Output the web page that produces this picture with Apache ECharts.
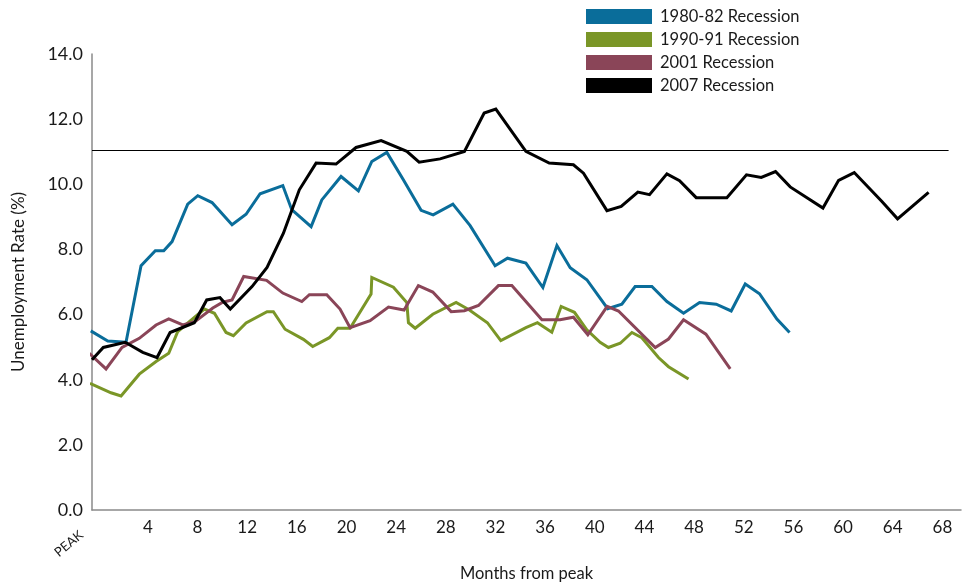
<!DOCTYPE html>
<html>
<head>
<meta charset="utf-8">
<script src="https://cdn.jsdelivr.net/npm/echarts@6/dist/echarts.min.js"></script>
<style>
  html, body { margin: 0; padding: 0; background: #ffffff; }
  #chart { width: 964px; height: 582px; }
</style>
</head>
<body>
<div id="chart"></div>
<script>
// ---- data (months from peak, unemployment rate %) ----
var seriesNames = ['1980-82 Recession', '1990-91 Recession', '2001 Recession', '2007 Recession'];
var seriesColors = ['#0a6d9a', '#7a9627', '#8a4558', '#000000'];

var recession1980 = [
  [-0.6,5.50],[0.77,5.19],[2.24,5.15],[3.45,7.50],[4.60,7.96],[5.28,7.96],[5.95,8.24],[7.21,9.39],
  [8.02,9.65],[9.17,9.44],[10.78,8.76],[11.91,9.08],[13.04,9.71],[14.87,9.96],[15.59,9.22],[17.15,8.70],
  [18.01,9.52],[19.56,10.24],[20.96,9.80],[22.04,10.70],[23.25,10.98],[24.58,10.14],[26.01,9.20],[26.98,9.06],
  [28.57,9.39],[29.96,8.73],[31.97,7.50],[32.97,7.73],[34.45,7.58],[35.82,6.83],[36.95,8.12],[38.02,7.44],
  [39.36,7.07],[41.04,6.18],[42.18,6.32],[43.25,6.86],[44.60,6.86],[45.81,6.40],[47.15,6.04],[48.44,6.37],
  [49.78,6.32],[50.99,6.11],[52.12,6.94],[53.27,6.64],[54.67,5.86],[55.69,5.45]
];
var recession1990 = [
  [-0.66,3.89],[1.03,3.60],[1.84,3.50],[3.31,4.17],[4.66,4.56],[5.68,4.81],[6.41,5.48],[8.55,6.17],
  [9.36,6.04],[10.30,5.45],[10.89,5.35],[11.91,5.74],[13.60,6.09],[14.11,6.09],[15.05,5.55],[16.53,5.24],
  [17.28,5.02],[18.62,5.29],[19.30,5.58],[20.29,5.58],[21.98,6.63],[22.04,7.14],[23.78,6.84],[24.86,6.37],
  [24.99,5.75],[25.53,5.58],[26.95,6.01],[28.83,6.37],[29.90,6.14],[31.35,5.75],[32.43,5.20],[34.45,5.60],
  [35.38,5.75],[36.54,5.46],[37.29,6.25],[38.36,6.07],[39.36,5.53],[40.43,5.15],[41.10,4.99],[42.05,5.12],
  [42.99,5.45],[43.79,5.29],[45.13,4.68],[45.94,4.40],[47.55,4.02]
];
var recession2001 = [
  [-0.72,4.81],[0.63,4.33],[1.92,4.99],[3.31,5.27],[4.66,5.68],[5.68,5.87],[6.81,5.68],[7.82,5.79],
  [9.23,6.20],[10.03,6.38],[10.78,6.45],[11.72,7.17],[13.56,7.05],[14.87,6.66],[16.40,6.40],[17.01,6.61],
  [18.41,6.61],[19.48,6.17],[20.29,5.60],[21.90,5.81],[23.38,6.23],[24.64,6.14],[25.79,6.89],[26.95,6.69],
  [28.43,6.09],[29.50,6.12],[30.63,6.28],[32.24,6.89],[33.32,6.89],[35.74,5.84],[37.21,5.84],[38.28,5.92],
  [39.44,5.38],[41.00,6.25],[41.91,6.11],[44.87,4.99],[45.94,5.25],[47.15,5.84],[48.95,5.40],[50.91,4.33]
];
var recession2007 = [
  [-0.5,4.61],[0.41,4.99],[2.18,5.15],[3.59,4.84],[4.74,4.68],[5.79,5.45],[7.74,5.75],[8.74,6.45],
  [9.81,6.52],[10.64,6.17],[12.39,6.86],[13.60,7.45],[14.92,8.50],[16.20,9.83],[17.55,10.65],[19.16,10.62],
  [20.77,11.13],[22.79,11.34],[24.86,11.01],[25.85,10.68],[27.54,10.78],[29.50,11.01],[31.09,12.19],[32.03,12.31],
  [34.45,11.01],[36.33,10.65],[38.28,10.60],[39.09,10.34],[40.98,9.19],[42.13,9.32],[43.47,9.76],[44.41,9.68],
  [45.81,10.32],[46.83,10.11],[48.17,9.59],[50.64,9.59],[52.22,10.29],[53.41,10.21],[54.56,10.39],[55.74,9.92],
  [58.38,9.27],[59.64,10.12],[60.90,10.36],[63.13,9.47],[64.39,8.94],[66.89,9.75]
];

var monthTicks = [4, 8, 12, 16, 20, 24, 28, 32, 36, 40, 44, 48, 52, 56, 60, 64, 68];
var peakTick = [0];
var peakLabel = 'PEAK';
var yTicks = [0, 2, 4, 6, 8, 10, 12, 14];
var refLineValue = 11.05;
var refLineSpan = [-0.5, 68.5];
var xRange = [-0.5, 69.5];

// ---- chart ----
var FONT = 'Lato, "Open Sans", sans-serif';
var chart = echarts.init(document.getElementById('chart'), null, { renderer: 'canvas' });

var allData = [recession1980, recession1990, recession2001, recession2007];
var series = allData.map(function (d, i) {
  return {
    name: seriesNames[i],
    type: 'line',
    data: d,
    showSymbol: false,
    symbol: 'none',
    clip: false,
    color: seriesColors[i],
    itemStyle: { color: seriesColors[i] },
    lineStyle: { color: seriesColors[i], width: 3, join: 'miter' },
    emphasis: { disabled: true },
    z: 2 + i
  };
});
series[0].markLine = {
  silent: true,
  symbol: ['none', 'none'],
  label: { show: false },
  lineStyle: { color: '#000', width: 1, type: 'solid' },
  data: [[{ coord: [refLineSpan[0], refLineValue] }, { coord: [refLineSpan[1], refLineValue] }]]
};

chart.setOption({
  animation: false,
  backgroundColor: '#ffffff',
  grid: { left: 92, right: 3, top: 54, bottom: 72, containLabel: false, outerBoundsMode: 'none' },
  legend: {
    data: seriesNames,
    orient: 'vertical',
    left: 586,
    top: 8,
    padding: 0,
    icon: 'rect',
    itemWidth: 66,
    itemHeight: 15,
    itemGap: 6,
    selectedMode: false,
    textStyle: { fontFamily: FONT, fontSize: 16.5, color: '#1a1a1a', lineHeight: 15, padding: [0, 0, 0, 3] }
  },
  xAxis: [{
    type: 'value',
    position: 'bottom',
    min: xRange[0],
    max: xRange[1],
    name: 'Months from peak',
    nameLocation: 'middle',
    nameGap: 55,
    nameTextStyle: { fontFamily: FONT, fontSize: 16.5, color: '#1a1a1a' },
    axisLine: { show: true, onZero: false, lineStyle: { color: '#8a8a8a', width: 1.5 } },
    axisTick: { show: false },
    splitLine: { show: false },
    axisLabel: {
      customValues: monthTicks,
      fontFamily: FONT, fontSize: 17, color: '#1a1a1a', margin: 9,
      formatter: function (v) { return String(v); }
    }
  }, {
    type: 'value',
    position: 'bottom',
    min: xRange[0],
    max: xRange[1],
    axisLine: { show: false, onZero: false },
    axisTick: { show: false },
    splitLine: { show: false },
    axisLabel: {
      customValues: peakTick,
      rotate: 40,
      margin: 9,
      padding: [0, 22, 0, 0],
      fontFamily: FONT, fontSize: 13, color: '#1a1a1a',
      formatter: function () { return peakLabel; }
    }
  }],
  yAxis: {
    type: 'value',
    min: yTicks[0],
    max: yTicks[yTicks.length - 1],
    interval: 2,
    name: 'Unemployment Rate (%)',
    nameLocation: 'middle',
    nameGap: 65,
    nameTextStyle: { fontFamily: FONT, fontSize: 17, color: '#1a1a1a' },
    axisLine: { show: true, onZero: false, lineStyle: { color: '#8a8a8a', width: 1.5 } },
    axisTick: { show: false },
    splitLine: { show: false },
    axisLabel: {
      fontFamily: FONT, fontSize: 18, color: '#1a1a1a', margin: 9,
      formatter: function (v) { return v.toFixed(1); }
    }
  },
  series: series
});
</script>
</body>
</html>
